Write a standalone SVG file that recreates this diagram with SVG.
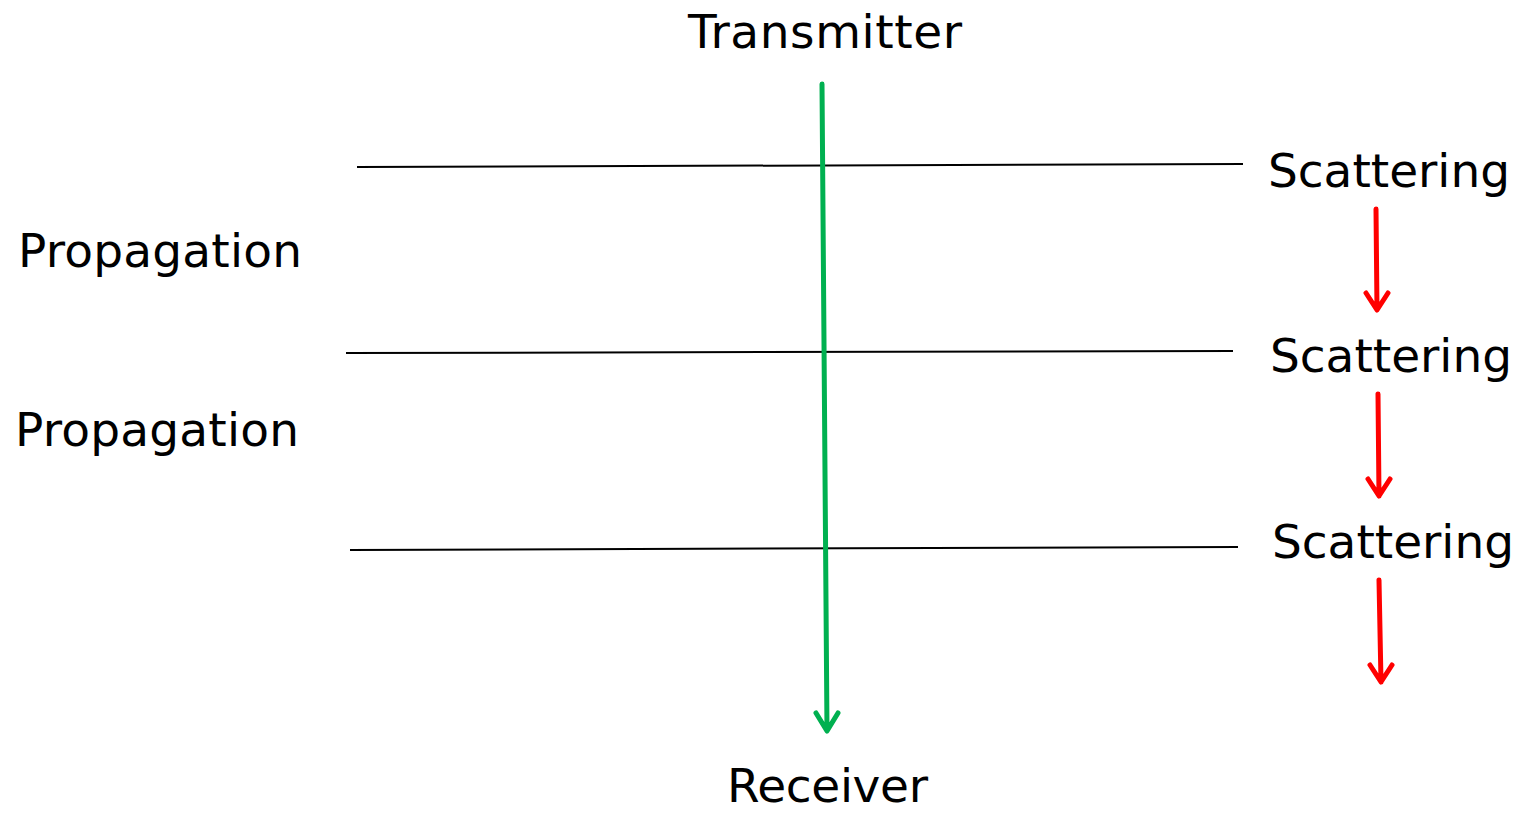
<svg xmlns="http://www.w3.org/2000/svg" width="1519" height="814" viewBox="0 0 1519 814">
<style>
text{font-family:"DejaVu Sans","Verdana",sans-serif;font-size:47px;fill:#000}
.layer{stroke:#000;stroke-width:2;fill:none}
.green{stroke:#00b050;stroke-width:5;fill:none;stroke-linecap:round;stroke-linejoin:round}
.red{stroke:#ff0000;stroke-width:5;fill:none;stroke-linecap:round;stroke-linejoin:round}
</style>
<rect width="1519" height="814" fill="#fff"/>
<g id="connectors">
<line class="layer" x1="357" y1="167" x2="1243" y2="164"/>
<line class="layer" x1="346" y1="353" x2="1233" y2="351"/>
<line class="layer" x1="350" y1="550" x2="1238" y2="547"/>
<path class="green" d="M822 84 L827 731 M816 713 L827 731 L838 713"/>
<path class="red" d="M1376 209 L1377 310 M1366 293 L1377 310 L1388 293"/>
<path class="red" d="M1378 394 L1379 496 M1368 479 L1379 496 L1390 479"/>
<path class="red" d="M1379 580 L1381 682 M1370 665 L1381 682 L1392 665"/>
</g>
<g id="transmitter"><text x="688" y="48" textLength="274">Transmitter</text></g>
<g id="receiver"><text x="727" y="802" textLength="201">Receiver</text></g>
<g id="scattering1"><text x="1268" y="187" textLength="242">Scattering</text></g>
<g id="scattering2"><text x="1270" y="372" textLength="242">Scattering</text></g>
<g id="scattering3"><text x="1272" y="558" textLength="242">Scattering</text></g>
<g id="propagation1"><text x="18" y="267" textLength="284">Propagation</text></g>
<g id="propagation2"><text x="15" y="446" textLength="284">Propagation</text></g>
</svg>
